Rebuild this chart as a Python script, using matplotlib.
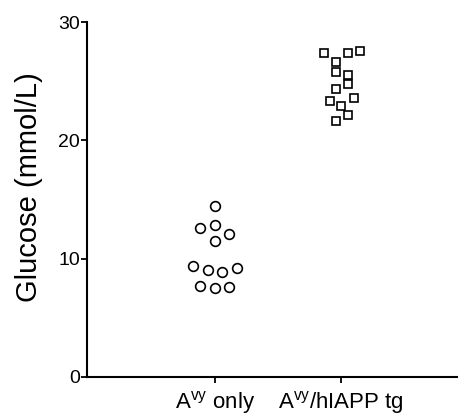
import numpy as np
import matplotlib
matplotlib.use('Agg')
import matplotlib.pyplot as plt

plt.rcParams['font.family'] = ['Liberation Sans', 'DejaVu Sans']
plt.rcParams['mathtext.fontset'] = 'custom'
plt.rcParams['mathtext.rm'] = 'Liberation Sans'
plt.rcParams['mathtext.default'] = 'regular'

groups = [r'A$^{vy}$ only', r'A$^{vy}$/hIAPP tg']

# glucose values (mmol/L)
avy_only = [14.45, 12.6, 12.85, 12.1, 11.5, 9.4, 9.0, 8.9, 9.2, 7.7, 7.5, 7.6]
avy_only_dx = [0.0, -0.12, 0.0, 0.11, 0.0, -0.18, -0.055, 0.05, 0.17, -0.12, 0.0, 0.11]

avy_hiapp = [27.4, 27.4, 27.55, 26.6, 25.8, 25.5, 24.8, 24.3, 23.3, 23.6, 22.9, 22.1, 21.6]
avy_hiapp_dx = [-0.14, 0.055, 0.15, -0.04, -0.04, 0.055, 0.055, -0.04, -0.09, 0.10, 0.0, 0.055, -0.04]

fig = plt.figure(figsize=(4.63, 4.2), dpi=100)
ax = fig.add_axes([0.188, 0.1024, 0.80, 0.8452])

ax.plot(0 + np.array(avy_only_dx), avy_only, 'o', ms=7.0, mfc='white',
        mec='black', mew=1.2, ls='none', clip_on=False)
ax.plot(1 + np.array(avy_hiapp_dx), avy_hiapp, 's', ms=6.3, mfc='white',
        mec='black', mew=1.2, ls='none', clip_on=False)

ax.set_xlim(-1.016, 1.92)
ax.set_ylim(0, 30)
ax.set_yticks([0, 10, 20, 30])
ax.set_xticks([0, 1])
ax.set_xticklabels(groups, fontsize=16)
ax.tick_params(axis='y', labelsize=14, length=4, width=1.3, pad=1)
ax.tick_params(axis='x', length=4, width=1.3, pad=5)
ax.set_ylabel('Glucose (mmol/L)', fontsize=21)
ax.yaxis.set_label_coords(-0.12, 0.535)

for s in ['top', 'right']:
    ax.spines[s].set_visible(False)
for s in ['left', 'bottom']:
    ax.spines[s].set_linewidth(1.5)

fig.savefig('out.png', dpi=100)
